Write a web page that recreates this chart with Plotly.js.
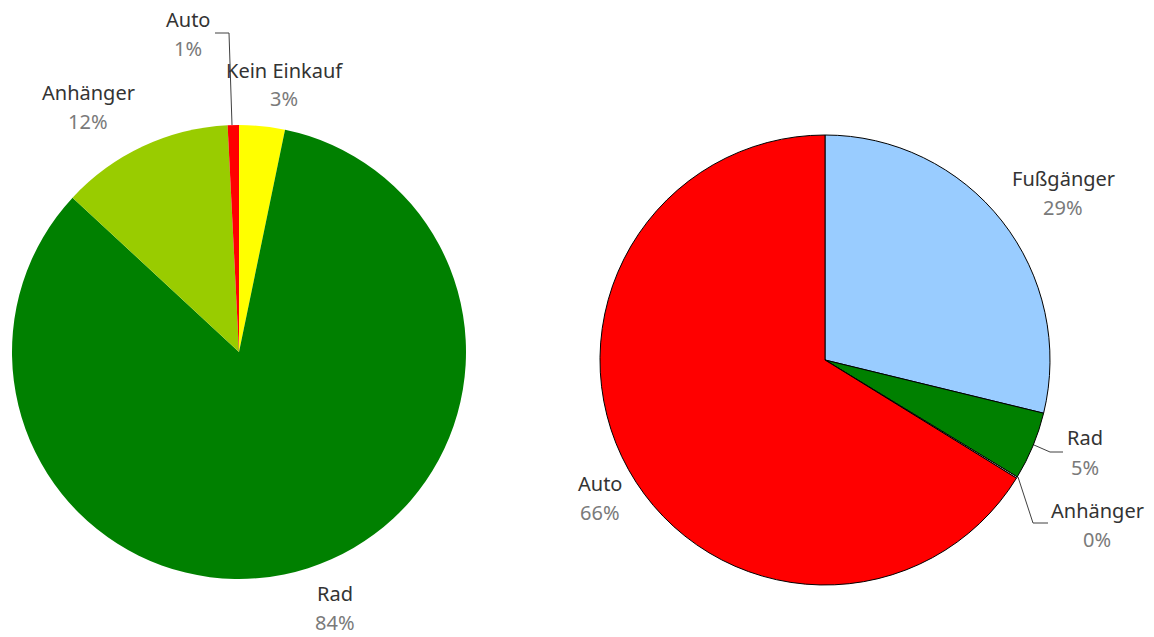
<!DOCTYPE html>
<html><head><meta charset="utf-8">
<script src="https://cdn.plot.ly/plotly-3.0.1.min.js"></script>
<style>html,body{margin:0;padding:0;background:#fff}#chart{width:1154px;height:637px}</style>
</head><body><div id="chart"></div>
<script>
// Left pie
const leftLabels = ["Kein Einkauf", "Rad", "Anhänger", "Auto"];
const leftValues = [3.25, 83.65, 12.3, 0.8];
const leftColors = ["#FFFF00", "#008000", "#99CC00", "#FF0000"];
// Right pie
const rightLabels = ["Fußgänger", "Rad", "Anhänger", "Auto"];
const rightValues = [28.8, 4.9, 0.1, 66.2];
const rightColors = ["#99CCFF", "#008000", "#FFFFFF", "#FF0000"];

const W = 1154, H = 637;
const px = x => x / W, py = y => 1 - y / H;

const traces = [
  {type: "pie", labels: leftLabels, values: leftValues, sort: false, direction: "clockwise", rotation: 0,
   marker: {colors: leftColors, line: {width: 0}}, textinfo: "none", hoverinfo: "label+percent",
   domain: {x: [px(12), px(466)], y: [py(579), py(125)]}, showlegend: false},
  {type: "pie", labels: rightLabels, values: rightValues, sort: false, direction: "clockwise", rotation: 0,
   marker: {colors: rightColors, line: {width: 1, color: "#000"}}, textinfo: "none", hoverinfo: "label+percent",
   domain: {x: [px(600), px(1050)], y: [py(585), py(135)]}, showlegend: false}
];

function pct(vals, i) {
  const t = vals.reduce((a, b) => a + b, 0);
  return Math.round(vals[i] / t * 100) + "%";
}
// label anchor positions (pixels: centre x, name line y, percent line y)
const leftLabelPos = [[284, 70, 98], [335, 593, 622], [88, 92, 121], [188, 20, 48]];
const rightLabelPos = [[1063, 178, 208], [1085, 438, 467], [1097, 510, 539], [600, 483, 512]];

const FONT = "Noto Sans, sans-serif";
const annotations = [];
function addLabels(labels, vals, pos) {
  labels.forEach((l, i) => {
    annotations.push({
      xref: "paper", yref: "paper", x: px(pos[i][0]), y: py(pos[i][1]),
      xanchor: "center", yanchor: "middle", showarrow: false,
      text: l, font: {family: FONT, size: 20, color: "#333333"}
    });
    annotations.push({
      xref: "paper", yref: "paper", x: px(pos[i][0]), y: py(pos[i][2]),
      xanchor: "center", yanchor: "middle", showarrow: false,
      text: pct(vals, i), font: {family: FONT, size: 20, color: "#7a7a7a"}
    });
  });
}
addLabels(leftLabels, leftValues, leftLabelPos);
addLabels(rightLabels, rightValues, rightLabelPos);

function path(pts) {
  return pts.map((p, i) => (i ? "L" : "M") + px(p[0]) + "," + py(p[1])).join(" ");
}
const lineStyle = {color: "#404040", width: 1};
const shapes = [
  {type: "path", xref: "paper", yref: "paper", path: path([[215, 33], [229, 33], [232, 125]]), line: lineStyle},
  {type: "path", xref: "paper", yref: "paper", path: path([[1034, 445], [1050, 452], [1063, 452]]), line: lineStyle},
  {type: "path", xref: "paper", yref: "paper", path: path([[1018, 477], [1033, 523], [1048, 523]]), line: lineStyle}
];

const layout = {
  width: W, height: H, margin: {l: 0, r: 0, t: 0, b: 0},
  paper_bgcolor: "#fff", plot_bgcolor: "#fff",
  annotations: annotations, shapes: shapes, showlegend: false
};
Plotly.newPlot("chart", traces, layout, {displayModeBar: false, staticPlot: true});
</script></body></html>
